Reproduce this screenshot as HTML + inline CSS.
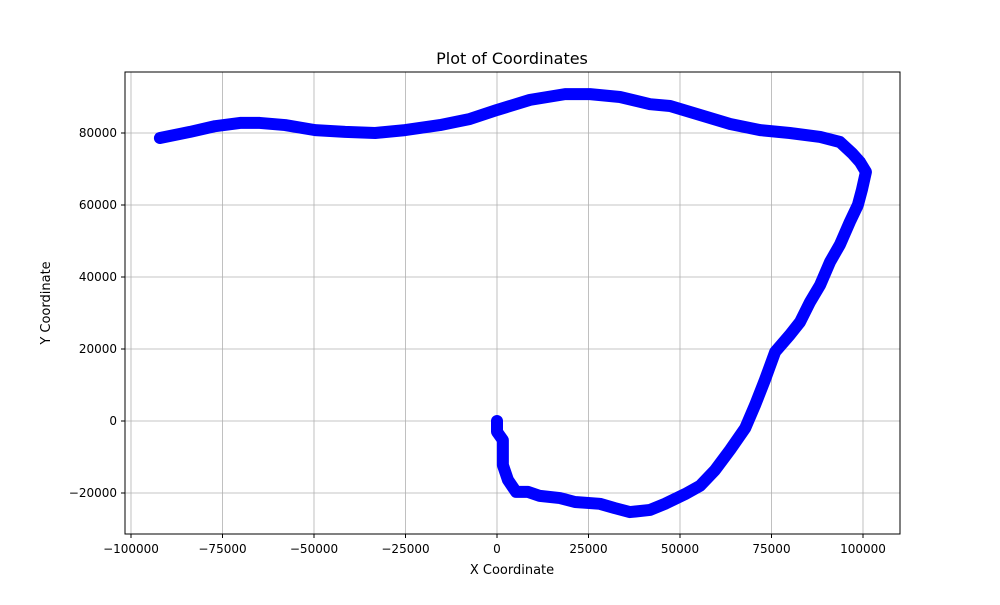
<!DOCTYPE html>
<html><head><meta charset="utf-8"><style>
body{margin:0;background:#fff;font-family:"Liberation Sans","DejaVu Sans",sans-serif;}
svg text{font-family:"DejaVu Sans","Liberation Sans",sans-serif;}
</style></head><body>
<svg id="chart" width="1000" height="600" xmlns="http://www.w3.org/2000/svg">
<rect width="1000" height="600" fill="#fff"/>
<g id="grid"></g>
<g id="series"></g>
<rect x="125" y="72" width="775" height="462" fill="none" stroke="#000" stroke-width="1"/>
<g id="ticks"></g>
<text x="512" y="64" text-anchor="middle" font-size="16">Plot of Coordinates</text>
<text x="512" y="574" text-anchor="middle" font-size="13">X Coordinate</text>
<text x="50" y="303" text-anchor="middle" font-size="13" transform="rotate(-90 50 303)">Y Coordinate</text>
</svg>
<script>
const xs=[0,0,1600,1600,3000,5200,8500,11700,17200,21300,28100,32200,36300,41800,45900,51400,55500,59600,63700,67800,70500,73200,76000,80000,82800,85500,88300,91000,93700,96400,98600,99700,100800,99200,97000,93700,88300,80000,71900,63700,55500,47300,41800,33600,25400,18600,9000,0,-7400,-15600,-25100,-33300,-41500,-49700,-57900,-64800,-70200,-77000,-83900,-92100];
const ys=[0,-3000,-5300,-12200,-16400,-19700,-19700,-20800,-21400,-22500,-23000,-24200,-25300,-24700,-23000,-20300,-18000,-13600,-8000,-2000,4400,11400,19200,23900,27500,33000,37800,44200,49000,55300,60000,64200,69200,71900,74400,77500,78900,80000,80800,82500,85000,87500,88000,90000,90800,90800,89200,86400,83900,82200,80800,80000,80300,80800,82200,82800,82800,81900,80300,78600];
const xTicks=[-100000,-75000,-50000,-25000,0,25000,50000,75000,100000];
const yTicks=[-20000,0,20000,40000,60000,80000];
const NS="http://www.w3.org/2000/svg";
function sx(v){return 497+v*0.00366;}
function sy(v){return 421-v*0.0036;}
function mk(t,a,p){const e=document.createElementNS(NS,t);for(const k in a)e.setAttribute(k,a[k]);p.appendChild(e);return e;}
const grid=document.getElementById('grid'),ticks=document.getElementById('ticks'),ser=document.getElementById('series');
xTicks.forEach(v=>{const x=sx(v);
 const g=mk('line',{x1:x,x2:x,y1:72,y2:534,stroke:'#b0b0b0','stroke-width':0.8},grid);
 
 
 mk('line',{x1:x,x2:x,y1:534,y2:538,stroke:'#000'},ticks);
 const t=mk('text',{x:x,y:553,'text-anchor':'middle','font-size':12},ticks);
 t.textContent=(v<0?'\u2212'+(-v):v);
 
 
});
yTicks.forEach(v=>{const y=sy(v);
 const g=mk('line',{x1:125,x2:900,y1:y,y2:y,stroke:'#b0b0b0','stroke-width':0.8},grid);
 
 
 mk('line',{x1:121,x2:125,y1:y,y2:y,stroke:'#000'},ticks);
 const t=mk('text',{x:117,y:y+4,'text-anchor':'end','font-size':12},ticks);
 t.textContent=(v<0?'\u2212'+(-v):v);
 
 
});
const pts=xs.map((x,i)=>sx(x)+','+sy(ys[i])).join(' ');
const pl=mk('polyline',{points:pts,fill:'none',stroke:'#0000ff','stroke-width':12,'stroke-linejoin':'round','stroke-linecap':'round'},ser);


</script>
</body></html>
